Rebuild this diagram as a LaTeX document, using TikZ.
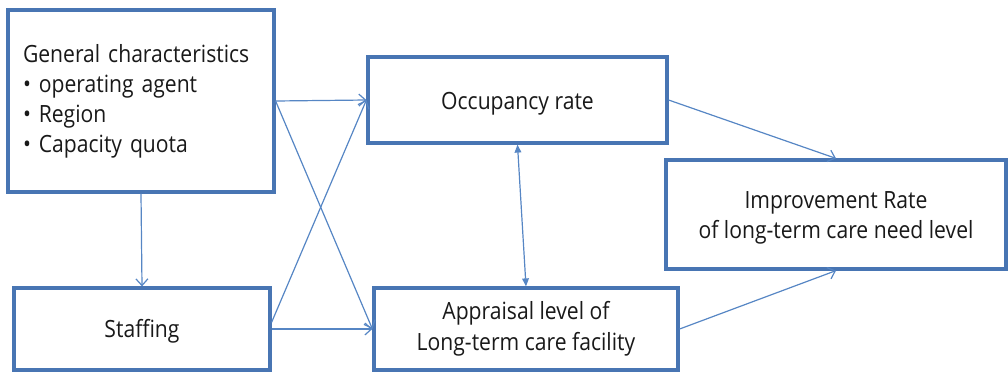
\documentclass[tikz,border=0pt]{standalone}
\usepackage{fontspec}
\setmainfont{Open Sans}[FakeStretch=0.89]
\usetikzlibrary{arrows.meta}
\definecolor{boxblue}{RGB}{72,117,179}
\definecolor{lineblue}{RGB}{86,134,196}
\definecolor{ink}{RGB}{25,25,25}
\begin{document}
\begin{tikzpicture}[x=0.75pt,y=-0.75pt,
  box/.style={draw=boxblue,line width=2.4pt,fill=white,inner sep=0pt,
    text=ink,font=\fontsize{17.8}{24}\selectfont,align=center},
  conn/.style={draw=lineblue,line width=0.9pt,
    -{Straight Barb[length=5pt,width=9pt,line width=0.9pt]}},
  both/.style={draw=lineblue,line width=0.9pt,
    {Triangle[length=6pt,width=5pt]}-{Triangle[length=6pt,width=5pt]}}]
\useasboundingbox (0,0) rectangle (1008,372);

% boxes
\node[box,align=left,text width=177pt,inner xsep=11.25pt,
      minimum width=199.5pt,minimum height=136.5pt,
      font=\fontsize{17.8}{22.5}\selectfont] (gen) at (141,101)
  {General characteristics\\ • operating agent\\ • Region\\ • Capacity quota};
\node[box,minimum width=192pt,minimum height=61.5pt,
      text height=17pt,text depth=4.5pt] (stf) at (142,329) {Staffing};
\node[box,minimum width=224.25pt,minimum height=64.5pt,
      text height=19pt,text depth=4.5pt] (occ) at (517.5,100) {Occupancy rate};
\node[box,minimum width=228pt,minimum height=61.5pt,
      font=\fontsize{17.8}{23}\selectfont] (apr) at (526,329)
  {Appraisal level of\\Long-term care facility};
\node[box,minimum width=255pt,minimum height=81.75pt,
      font=\fontsize{17.8}{22}\selectfont,
      text height=40pt,text depth=4.5pt] (imp) at (836,214.5)
  {Improvement Rate\\of long-term care need level};

% connectors
\draw[conn] (gen.east) -- (occ.west);
\draw[conn] (gen.east) -- (apr.west);
\draw[conn] (gen.south) -- (stf.north);
\draw[conn] ([yshift=5pt]stf.east) -- (occ.west);
\draw[conn] (stf.east) -- (apr.west);
\draw[both] (occ.south) -- (apr.north);
\draw[conn] (occ.east) -- (imp.north);
\draw[conn] (apr.east) -- (imp.south);
\end{tikzpicture}
\end{document}
